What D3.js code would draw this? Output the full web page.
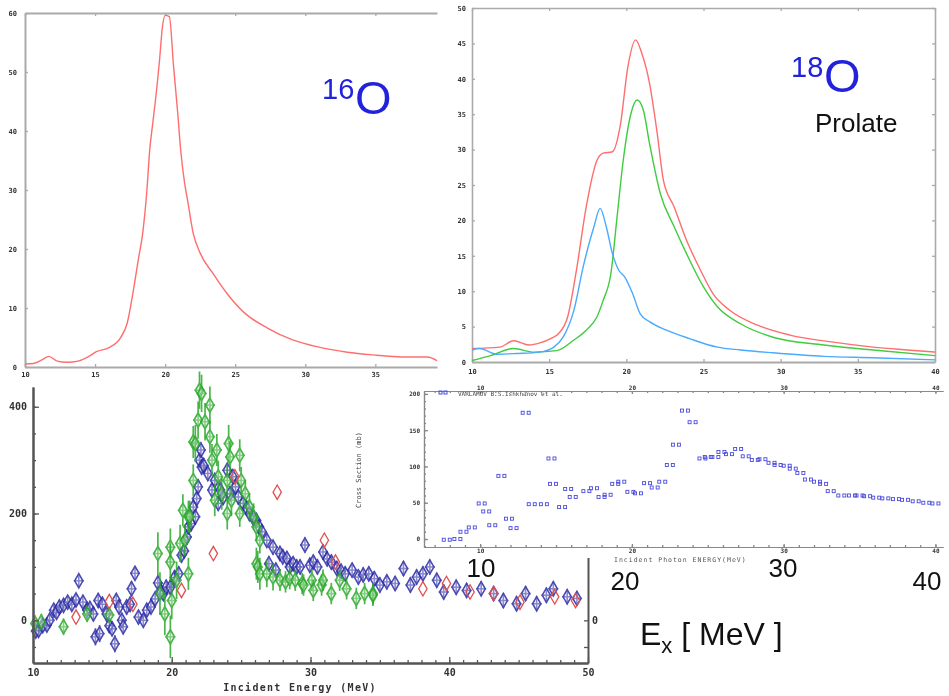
<!DOCTYPE html>
<html>
<head>
<meta charset="utf-8">
<script src="https://cdn.jsdelivr.net/npm/d3@7"></script>
<style>
  body { margin: 0; background: #fff; }
  svg { display: block; }
</style>
</head>
<body>
<svg id="chart" width="949" height="696"></svg>
<script>
// --- data ---

// 16O photo-absorption curve (top left)
const o16E = [10, 10.6, 11.2, 11.7, 12.3, 13.0, 13.8, 14.5, 15.1, 16.0, 16.8, 17.3, 17.7, 18.1, 18.4, 18.7, 18.9, 19.1, 19.3, 19.6, 19.8, 20.0, 20.3, 20.6, 20.9, 21.1, 21.4, 21.6, 22.0, 22.5, 23.4, 24.4, 25.6, 27.3, 29.1, 30.9, 33.0, 35.1, 36.8, 38.7, 39.4];
const o16S = [0.5, 0.6, 1.2, 1.8, 1.0, 0.8, 1.0, 1.7, 2.6, 3.3, 4.9, 7.5, 12.5, 18.4, 22.7, 30, 36.8, 41, 45, 52, 57.5, 59.6, 59.4, 51, 43, 37, 31, 28.3, 22.7, 19.3, 15.9, 12.5, 9.3, 6.6, 4.6, 3.4, 2.5, 2.0, 1.7, 1.7, 1.1];
const o16XTicks = [10, 15, 20, 25, 30, 35];
const o16YTicks = [0, 10, 20, 30, 40, 50, 60];

// 18O prolate: total (red), upper mode (green), lower mode (blue)
const o18RedE = [10, 11.8, 12.7, 13.7, 14.4, 15.1, 15.6, 16.2, 16.8, 17.4, 18.1, 18.5, 19.1, 19.6, 20.1, 20.6, 21.0, 21.5, 22.0, 22.4, 23.1, 23.9, 24.8, 25.6, 26.7, 28.5, 30.6, 33.4, 36.0, 38.2, 40];
const o18RedS = [1.9, 2.1, 3.0, 2.4, 2.7, 3.3, 4.0, 6.4, 13.4, 21.9, 28.5, 29.5, 29.7, 33.3, 41.7, 45.5, 43.6, 39.4, 32.3, 25.7, 21.9, 17.2, 13.0, 9.7, 7.3, 5.2, 3.8, 2.8, 2.1, 1.7, 1.4];
const o18GreenE = [10, 11.2, 12.7, 14.0, 15.5, 16.6, 17.4, 18.1, 18.5, 19.0, 19.4, 19.8, 20.3, 20.7, 21.1, 21.5, 22.2, 23.1, 23.9, 25.0, 25.9, 27.4, 29.5, 32.8, 36.0, 40];
const o18GreenS = [0.2, 0.9, 1.9, 1.4, 1.6, 3.1, 4.5, 6.4, 8.7, 12.5, 20.5, 28.5, 35.1, 37.0, 35.6, 30.9, 23.8, 19.1, 15.3, 10.6, 7.8, 5.4, 3.5, 2.4, 1.7, 0.9];
const o18BlueE = [10, 10.5, 11.6, 12.9, 14.4, 15.3, 15.9, 16.6, 17.2, 17.9, 18.3, 18.7, 19.1, 19.5, 19.9, 20.4, 20.9, 21.5, 22.6, 24.1, 25.9, 27.4, 29.5, 32.8, 36.0, 40];
const o18BlueS = [1.7, 1.9, 1.1, 1.2, 1.4, 2.1, 3.5, 7.3, 13.4, 19.1, 21.7, 19.1, 15.3, 13.0, 12.0, 9.7, 6.8, 5.7, 4.5, 3.3, 2.1, 1.7, 1.3, 0.8, 0.6, 0.3];
const o18XTicks = [10, 15, 20, 25, 30, 35, 40];
const o18YTicks = [0, 5, 10, 15, 20, 25, 30, 35, 40, 45, 50];

// measured data (bottom left): [energy, value, error]
const expBlue = [
  [10.2,-20,12],[10.4,-19,12],[10.7,-10,12],[11.0,-9,12],[11.2,0,12],[11.5,19,12],[11.7,15,12],[11.9,25,12],
  [12.2,28,12],[12.5,34,12],[12.8,30,12],[13.1,38,12],[13.3,74,10],[13.6,34,12],[13.9,19,12],[14.1,22,14],
  [14.35,12,14],[14.5,-31,16],[14.8,-25,16],[14.7,37,14],[15.0,30,14],[15.3,12,14],[15.5,-10,14],[15.7,-16,14],
  [15.9,-44,16],[16.0,37,14],[16.2,25,14],[16.4,0,14],[16.5,-12,14],[16.75,25,14],[17.0,30,14],[17.1,59,14],
  [17.35,88,10],[17.6,6,12],[17.95,0,12],[18.2,19,12],[18.5,25,12],[18.8,40,12],[19.0,70,14],[19.2,55,14],
  [19.4,50,14],[19.6,62,14],[19.9,62,14],[20.2,80,14],[20.5,87,14],[20.7,122,14],[20.9,130,14],[21.1,156,14],
  [21.2,175,14],[21.4,181,14],[21.55,212,14],[21.7,194,14],[21.8,228,14],[21.9,250,14],[22.0,300,14],[22.1,319,14],
  [22.15,287,14],[22.3,290,14],[22.6,275,14],[22.9,244,14],[23.1,262,14],[23.35,219,14],[23.5,244,14],[23.7,230,14],
  [24.0,281,14],[24.2,237,14],[24.4,269,14],[24.6,250,14],[24.8,231,14],[25.15,219,14],[25.4,210,14],[25.6,200,14],
  [25.9,190,14],[26.1,187,14],[26.3,175,14],[26.5,166,14],[26.85,150,14],[27.0,106,14],[27.3,137,14],[27.5,94,14],
  [27.8,125,14],[28.0,119,14],[28.3,116,14],[28.5,100,14],[28.75,106,14],[29.0,100,14],[29.25,100,14],[29.6,141,14],
  [29.95,103,14],[30.2,109,14],[30.5,100,14],[30.9,128,14],[31.2,115,14],[31.5,109,14],[31.9,97,14],[32.2,92,14],
  [32.5,87,14],[33.0,94,14],[33.45,81,14],[33.8,85,14],[34.2,87,14],[34.6,78,14],[35.0,66,14],[35.5,72,14],
  [36.1,69,14],[36.7,97,14],[37.2,66,14],[37.65,81,14],[38.1,87,14],[38.6,100,14],[39.1,75,14],[39.6,53,14],
  [40.5,62,14],[41.25,56,14],[42.3,59,14],[43.2,50,14],[43.9,37,14],[44.85,31,14],[45.5,50,14],[46.3,31,14],
  [47.0,47,14],[47.5,59,14],[48.5,44,14],[49.2,41,14]
];
const expGreen = [
  [10.15,-6,15],[10.6,-3,15],[12.2,-12,15],[13.9,12,15],[15.5,10,15],[19.0,125,40],[19.15,50,40],[19.5,12,40],
  [19.9,-31,40],[20.0,37,35],[19.9,137,35],[19.9,109,35],[20.35,75,35],[20.6,144,35],[20.8,206,30],[20.95,150,30],
  [21.2,87,30],[21.2,194,30],[21.3,194,30],[21.55,262,30],[21.55,334,30],[21.7,331,35],[21.9,375,35],[22.0,431,35],
  [22.15,425,35],[22.4,372,35],[22.75,403,35],[22.75,344,30],[22.9,300,30],[23.1,225,30],[23.25,319,30],[23.35,269,30],
  [23.6,237,30],[24.0,262,30],[24.0,200,30],[24.1,331,35],[24.2,306,30],[24.3,225,30],[24.9,309,30],[24.9,200,25],
  [25.0,262,25],[25.3,237,25],[25.6,212,25],[25.9,194,25],[26.1,175,25],[26.1,106,30],[26.2,100,30],[26.35,150,25],
  [26.35,87,30],[26.85,87,25],[27.3,81,25],[27.8,75,20],[28.2,72,20],[28.5,78,20],[28.9,75,20],[29.4,69,20],
  [29.5,66,20],[30.1,75,20],[30.2,56,20],[30.8,66,20],[30.9,75,20],[31.5,50,20],[32.1,75,20],[32.6,59,20],
  [33.3,41,20],[33.9,50,20],[34.5,50,20],[34.5,47,20]
];
const expRed = [
  [13.1,6],[15.5,35],[17.2,30],[20.7,56],[23.0,125],[24.55,269],[27.6,240],[31.0,150],[31.8,109],
  [38.1,59],[39.8,69],[41.5,53],[43.2,50],[45.1,34],[47.6,44],[49.1,37]
];
const expXTicks = [10, 20, 30, 40, 50];
const expYTicks = [0, 200, 400];

// evaluated data (inset, bottom right): [energy, value]
const evalPts = [
  [7.8,-1],[8.5,0],[8.9,10],[9.45,16],[10.1,49],[10.4,38],[10.8,19],[11.4,87],[11.9,28],[12.2,15],[13.0,174],
  [13.4,48],[14.2,48],[14.7,111],[14.8,76],[15.4,44],[15.8,69],[16.1,58],[17.0,66],[17.5,70],[18.0,58],[18.4,61],
  [18.9,76],[19.3,79],[19.9,65],[20.4,63],[21.0,77],[21.5,71],[22.0,79],[22.5,102],[22.9,130],[23.5,177],[24.0,161],
  [24.65,111],[25.0,113],[25.5,113],[25.9,120],[26.4,117],[27.0,124],[27.5,114],[28.1,109],[28.6,110],[29.2,105],
  [29.6,102],[30.2,101],[30.6,97],[31.1,91],[31.6,82],[32.2,79],[32.6,76],[33.1,66],[33.8,60],[34.5,60],[35.0,60],
  [35.5,59],[36.1,57],[36.7,56],[37.4,55],[38.0,54],[38.7,52],[39.4,50],[40.0,49]
];
const evalXTicks = [10, 20, 30, 40];
const evalYTicks = [0, 50, 100, 150, 200];
const bigXLabels = ['10', '20', '30', '40'];

// --- drawing ---
const svg = d3.select('#chart');
svg.append('rect').attr('width', 949).attr('height', 696).attr('fill', '#fff');
svg.append('defs').append('filter').attr('id', 'soft')
  .append('feGaussianBlur').attr('stdDeviation', 0.55);

const MONO = "'DejaVu Sans Mono', monospace";
const SANS = "'Liberation Sans', Arial, sans-serif";

function styleAxis(sel, color, lw, fs) {
  sel.attr('font-family', MONO).attr('font-size', fs);
  sel.select('.domain').attr('stroke', color).attr('stroke-width', lw);
  sel.selectAll('.tick line').attr('stroke', color).attr('stroke-width', 1.3);
  sel.selectAll('.tick text').attr('fill', '#333').attr('font-weight', 'bold');
}

// Panel C: measured cross sections (drawn first, the inset covers part of it)
(function() {
  const x = d3.scaleLinear().domain([10, 50]).range([33, 588]);
  const y = d3.scaleLinear().domain([-80, 437]).range([663, 387]);
  const g = svg.append('g').attr('filter', 'url(#soft)');

  function errMarks(data, color, sw) {
    const p = g.append('g').selectAll('g').data(data).enter().append('g')
      .attr('transform', d => `translate(${x(d[0])},${y(d[1])})`)
      .attr('stroke', color).attr('fill', 'none').attr('stroke-width', sw).attr('opacity', 0.85);
    p.append('line').attr('y1', d => y(d[1] + d[2]) - y(d[1])).attr('y2', d => y(d[1] - d[2]) - y(d[1]));
    p.append('line').attr('x1', -5).attr('x2', 5);
    p.append('path').attr('d', d3.symbol(d3.symbolDiamond, 58)).attr('fill', '#fff').attr('fill-opacity', 0.35);
  }
  errMarks(expBlue, '#2c2ca6', 1.6);
  errMarks(expGreen, '#2aa82a', 1.7);
  g.append('g').selectAll('path').data(expRed).enter().append('path')
    .attr('transform', d => `translate(${x(d[0])},${y(d[1])})`)
    .attr('d', d3.symbol(d3.symbolDiamond, 60))
    .attr('fill', 'none').attr('stroke', '#e05050').attr('stroke-width', 1.3);

  const ax = g.append('g');
  ax.append('g').attr('transform', 'translate(0,663)')
    .call(d3.axisBottom(x).tickValues(d3.range(10, 51)).tickSizeInner(-3).tickSizeOuter(0).tickFormat(''))
    .call(s => styleAxis(s, '#555', 2, 9));
  ax.append('g').attr('transform', 'translate(0,663)')
    .call(d3.axisBottom(x).tickValues(expXTicks).tickSizeInner(-6).tickSizeOuter(0).tickPadding(6).tickFormat(d3.format('d')))
    .call(s => styleAxis(s, '#555', 2, 10));
  ax.append('g').attr('transform', 'translate(33,0)')
    .call(d3.axisLeft(y).tickValues(d3.range(-50, 437, 50)).tickSizeInner(-3).tickSizeOuter(0).tickFormat(''))
    .call(s => styleAxis(s, '#555', 2, 9));
  ax.append('g').attr('transform', 'translate(33,0)')
    .call(d3.axisLeft(y).tickValues(expYTicks).tickSizeInner(-6).tickSizeOuter(0).tickPadding(6))
    .call(s => styleAxis(s, '#555', 2, 10));
  const yr = d3.scaleLinear().domain([-80, 190]).range([663, 519]);
  ax.append('g').attr('transform', 'translate(588,0)')
    .call(d3.axisRight(yr).tickValues([-50, 0]).tickSizeInner(-4).tickSizeOuter(0).tickPadding(4)
      .tickFormat(d => d === 0 ? '0' : ''))
    .call(s => styleAxis(s, '#555', 2, 10));
  g.append('text').attr('x', 300).attr('y', 691).attr('text-anchor', 'middle')
    .attr('font-family', MONO).attr('font-size', 10).attr('font-weight', 'bold')
    .attr('letter-spacing', 1.3).attr('fill', '#333').text('Incident Energy (MeV)');
})();

// Panel D: evaluated data inset
(function() {
  const x = d3.scaleLinear().domain([6.3, 40.5]).range([424, 943]);
  const y = d3.scaleLinear().domain([-11, 204]).range([547, 391]);
  svg.append('rect').attr('x', 396).attr('y', 382).attr('width', 553).attr('height', 176).attr('fill', '#fff');
  const g = svg.append('g').attr('filter', 'url(#soft)');

  const bottom = g.append('g').attr('transform', 'translate(0,547)');
  bottom.append('g').call(d3.axisBottom(x).tickValues(d3.range(7, 41)).tickSizeInner(-2).tickSizeOuter(0).tickFormat(''))
    .call(s => styleAxis(s, '#888', 1.2, 6));
  bottom.append('g').call(d3.axisBottom(x).tickValues(evalXTicks).tickSizeInner(-3).tickSizeOuter(0).tickPadding(2))
    .call(s => styleAxis(s, '#888', 1.2, 6));
  const top = g.append('g').attr('transform', 'translate(0,391)');
  top.append('g').call(d3.axisTop(x).tickValues(d3.range(7, 41)).tickSizeInner(-2).tickSizeOuter(0).tickFormat(''))
    .call(s => styleAxis(s, '#888', 1.2, 6));
  top.append('g').call(d3.axisTop(x).tickValues(evalXTicks).tickSizeInner(-3).tickSizeOuter(0).tickPadding(1))
    .call(s => styleAxis(s, '#888', 1.2, 6));
  const left = g.append('g').attr('transform', 'translate(424,0)');
  left.append('g').call(d3.axisLeft(y).tickValues(d3.range(-10, 204, 10)).tickSizeInner(-2).tickSizeOuter(0).tickFormat(''))
    .call(s => styleAxis(s, '#888', 1.2, 6));
  left.append('g').call(d3.axisLeft(y).tickValues(evalYTicks).tickSizeInner(-4).tickSizeOuter(0).tickPadding(4))
    .call(s => styleAxis(s, '#888', 1.2, 6));

  const pts = g.append('g').selectAll('g').data(evalPts).enter().append('g')
    .attr('transform', d => `translate(${x(d[0])},${y(d[1])})`)
    .attr('fill', 'none').attr('stroke', '#4b4bdc').attr('stroke-width', 0.9);
  pts.append('rect').attr('x', -4.5).attr('y', -1.5).attr('width', 3).attr('height', 3);
  pts.append('rect').attr('x', 1.5).attr('y', -1.5).attr('width', 3).attr('height', 3);

  // legend
  g.append('rect').attr('x', 439).attr('y', 391).attr('width', 3).attr('height', 3).attr('fill', 'none').attr('stroke', '#4b4bdc');
  g.append('rect').attr('x', 444).attr('y', 391).attr('width', 3).attr('height', 3).attr('fill', 'none').attr('stroke', '#4b4bdc');
  g.append('text').attr('x', 458).attr('y', 396).attr('font-family', MONO).attr('font-size', 6).attr('fill', '#444')
    .text('VARLAMOV    B.S.Ishkhanov et al.');
  g.append('text').attr('x', 614).attr('y', 562).attr('font-family', MONO).attr('font-size', 6.5).attr('fill', '#555')
    .attr('letter-spacing', 1).text('Incident  Photon  ENERGY(MeV)');
  g.append('text').attr('transform', 'translate(361,508) rotate(-90)').attr('font-family', MONO)
    .attr('font-size', 7).attr('fill', '#444').text('Cross Section (mb)');
})();

// Panel A: 16O
(function() {
  const x = d3.scaleLinear().domain([10, 39.4]).range([25, 437]);
  const y = d3.scaleLinear().domain([0, 60]).range([367, 13]);
  const g = svg.append('g').attr('filter', 'url(#soft)');
  g.append('g').attr('transform', 'translate(0,367)')
    .call(d3.axisBottom(x).tickValues(o16XTicks).tickSizeInner(-3).tickSizeOuter(0).tickPadding(5))
    .call(s => styleAxis(s, '#aaa', 2, 7));
  g.append('g').attr('transform', 'translate(0,13)')
    .call(d3.axisTop(x).tickValues(o16XTicks).tickSizeInner(-3).tickSizeOuter(0).tickFormat(''))
    .call(s => styleAxis(s, '#aaa', 2, 7));
  g.append('g').attr('transform', 'translate(25,0)')
    .call(d3.axisLeft(y).tickValues(o16YTicks).tickSizeInner(-3).tickSizeOuter(0).tickPadding(8))
    .call(s => styleAxis(s, '#aaa', 2, 7));
  const line = d3.line().x((d, i) => x(o16E[i])).y(d => y(d)).curve(d3.curveMonotoneX);
  g.append('path').attr('d', line(o16S)).attr('fill', 'none').attr('stroke', '#ff6e6e').attr('stroke-width', 1.4);
})();

// Panel B: 18O
(function() {
  const x = d3.scaleLinear().domain([10, 40]).range([472, 935]);
  const y = d3.scaleLinear().domain([0, 50]).range([362, 8]);
  const g = svg.append('g').attr('filter', 'url(#soft)');
  g.append('g').attr('transform', 'translate(0,362)')
    .call(d3.axisBottom(x).tickValues(o18XTicks).tickSizeInner(-3).tickSizeOuter(0).tickPadding(7))
    .call(s => styleAxis(s, '#aaa', 2.2, 7));
  g.append('g').attr('transform', 'translate(0,8)')
    .call(d3.axisTop(x).tickValues(o18XTicks).tickSizeInner(-3).tickSizeOuter(0).tickFormat(''))
    .call(s => styleAxis(s, '#aaa', 1.6, 7));
  g.append('g').attr('transform', 'translate(472,0)')
    .call(d3.axisLeft(y).tickValues(o18YTicks).tickSizeInner(-3).tickSizeOuter(0).tickPadding(6))
    .call(s => styleAxis(s, '#aaa', 1.6, 7));
  g.append('g').attr('transform', 'translate(935,0)')
    .call(d3.axisRight(y).tickValues(o18YTicks).tickSizeInner(-3).tickSizeOuter(0).tickFormat(''))
    .call(s => styleAxis(s, '#aaa', 1.6, 7));
  const series = [
    [o18RedE, o18RedS, '#ff6e6e'],
    [o18GreenE, o18GreenS, '#3fcc3f'],
    [o18BlueE, o18BlueS, '#48aaff']
  ];
  series.forEach(([E, S, c]) => {
    const line = d3.line().x((d, i) => x(E[i])).y(d => y(d)).curve(d3.curveMonotoneX);
    g.append('path').attr('d', line(S)).attr('fill', 'none').attr('stroke', c).attr('stroke-width', 1.4);
  });
})();

// --- overlay annotations ---
const ov = svg.append('g').attr('font-family', SANS);
ov.append('text').attr('x', 322).attr('y', 99).attr('font-size', 29).attr('fill', '#2222dd').text('16');
ov.append('text').attr('x', 355).attr('y', 114).attr('font-size', 47).attr('fill', '#2222dd').text('O');
ov.append('text').attr('x', 791).attr('y', 77).attr('font-size', 29).attr('fill', '#2222dd').text('18');
ov.append('text').attr('x', 824).attr('y', 92).attr('font-size', 47).attr('fill', '#2222dd').text('O');
ov.append('text').attr('x', 815).attr('y', 132).attr('font-size', 26).attr('fill', '#111').text('Prolate');

const bigX = [481, 625, 783, 927];
const bigY = [577, 590, 577, 590];
ov.selectAll('.big').data(bigXLabels).enter().append('text')
  .attr('x', (d, i) => bigX[i]).attr('y', (d, i) => bigY[i]).attr('text-anchor', 'middle')
  .attr('font-size', 26).attr('fill', '#111').text(d => d);

const ex = ov.append('text').attr('x', 640).attr('y', 645).attr('font-size', 32).attr('fill', '#111');
ex.append('tspan').text('E');
ex.append('tspan').attr('font-size', 22).attr('dy', 8).text('x');
ex.append('tspan').attr('dy', -8).text(' [ MeV ]');
</script>
</body>
</html>
